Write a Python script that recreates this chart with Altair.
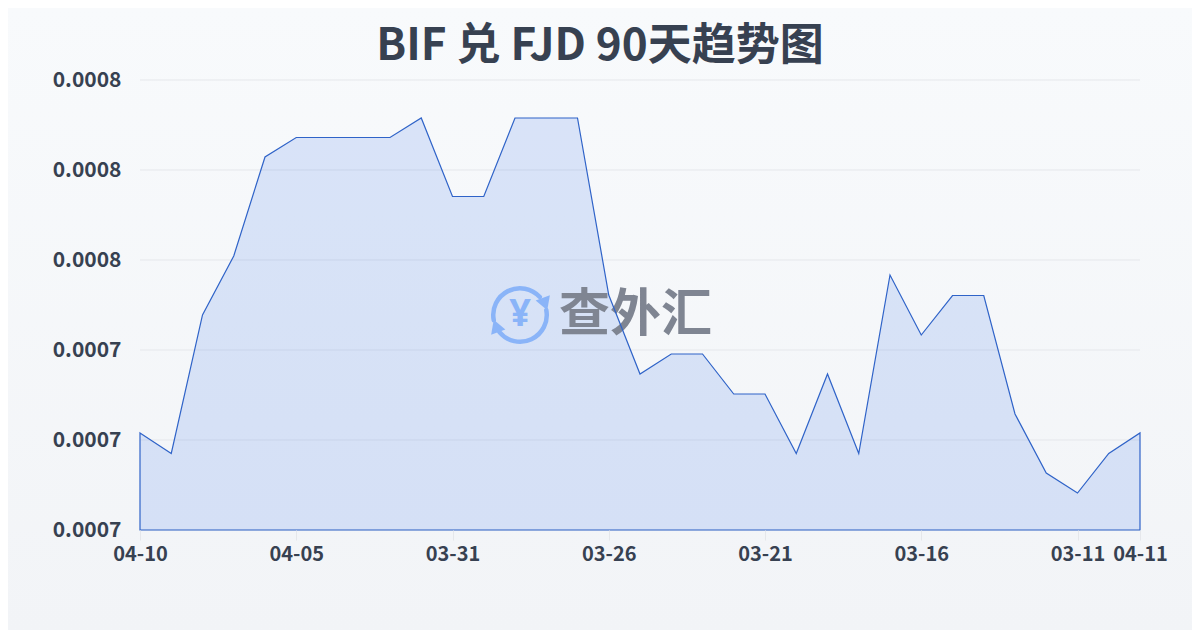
import altair as alt
import pandas as pd

TITLE = "BIF 兑 FJD 90天趋势图"
dates = ["04-10","04-09","04-08","04-07","04-06","04-05","04-04","04-03","04-02","04-01",
         "03-31","03-30","03-29","03-28","03-27","03-26","03-25","03-24","03-23","03-22",
         "03-21","03-20","03-19","03-18","03-17","03-16","03-15","03-14","03-13","03-12",
         "03-11","03-10","04-11"]
rates = [0.00072156,0.000717,0.00074778,0.00076089,0.00078289,0.00078722,0.00078722,0.00078722,
         0.00078722,0.00079156,0.00077411,0.00077411,0.00079156,0.00079156,0.00079156,0.00075222,
         0.00073467,0.00073911,0.00073911,0.00073022,0.00073022,0.000717,0.00073467,0.000717,
         0.00075667,0.00074333,0.00075211,0.00075211,0.00072578,0.00071267,0.00070822,0.000717,
         0.00072156]
x_ticks = ["04-10","04-05","03-31","03-26","03-21","03-16","03-11","04-11"]
y_ticks = [0.0007,0.00072,0.00074,0.00076,0.00078,0.0008]
BASE = 0.0007

TEXT = "#374151"
LINE = "#2f63c8"
FILL = "#2563eb"
LOGO = "#8ab4f8"
FONT = "Noto Sans CJK SC"

df = pd.DataFrame({"date": dates, "rate": rates, "base": [BASE] * len(dates)})
x_enc = alt.X("date:N", sort=None, title=None,
              scale=alt.Scale(type="point", padding=0),
              axis=alt.Axis(values=x_ticks, labelAngle=0, labelOverlap=False, labelFontSize=20,
                            labelFontWeight="bold", labelColor=TEXT, labelFont=FONT, labelPadding=4,
                            tickColor="#e5e7eb", tickSize=10, domain=False, grid=False, zindex=1))
y_scale = alt.Scale(domain=[BASE, 0.0008])
y_axis = alt.Axis(values=y_ticks, format=".4f", labelFontSize=21, labelFontWeight="bold",
                  labelColor=TEXT, labelFont=FONT, labelPadding=19, ticks=False,
                  domain=False, grid=False, zindex=1)
y_enc = alt.Y("rate:Q", title=None, scale=y_scale, axis=y_axis)

bg = alt.Chart(pd.DataFrame({"a": [0]})).mark_rect(
    color=alt.Gradient(gradient="linear", x1=0, y1=0, x2=0, y2=1,
                       stops=[alt.GradientStop(offset=0, color="#f8fafc"),
                              alt.GradientStop(offset=1, color="#f2f4f7")])
).encode(x=alt.value(-132), x2=alt.value(1052), y=alt.value(-72), y2=alt.value(550))

grid = alt.Chart(pd.DataFrame({"t": y_ticks})).mark_rule(color="#e5e7eb", strokeWidth=1).encode(
    y=alt.Y("t:Q", scale=y_scale, title=None, axis=y_axis), x=alt.value(0), x2=alt.value(1000))

title = alt.Chart(pd.DataFrame({"a": [TITLE]})).mark_text(
    font=FONT, fontWeight="bold", fontSize=44, color=TEXT, align="center", baseline="middle"
).encode(text="a:N", x=alt.value(460), y=alt.value(-33))

area = alt.Chart(df).mark_area(
    fill=FILL, fillOpacity=0.14, interpolate="linear"
).encode(x=x_enc, y=y_enc, y2="base:Q")
outline = alt.Chart(df).mark_area(
    stroke=LINE, strokeWidth=1.2, fillOpacity=0, interpolate="linear"
).encode(x=x_enc, y=y_enc, y2="base:Q")

cx, cy = 380, 235
def arc(t1, t2):
    return alt.Chart(pd.DataFrame({"a": [0]})).mark_arc(
        theta=t1, theta2=t2, radius=29, radius2=24.5, cornerRadius=2.2, color=LOGO
    ).encode(x=alt.value(cx), y=alt.value(cy))

logo = [arc(4.43, 7.2), arc(1.3, 4.1)]
def head(px, py, ang):
    return alt.Chart(pd.DataFrame({"a": [0]})).mark_point(
        shape="triangle-down", filled=True, size=230, color=LOGO, opacity=1, angle=ang
    ).encode(x=alt.value(px), y=alt.value(py))
logo += [head(405, 224, 340), head(356, 246, 160)]
yen = alt.Chart(pd.DataFrame({"a": ["¥"]})).mark_text(
    font="Noto Sans", fontWeight="bold", fontSize=38, color=LOGO, align="center", baseline="middle"
).encode(text="a:N", x=alt.value(cx), y=alt.value(cy))
brand = alt.Chart(pd.DataFrame({"a": ["查外汇"]})).mark_text(
    font=FONT, fontWeight="bold", fontSize=51, color="#7f8592", align="left", baseline="middle"
).encode(text="a:N", x=alt.value(419), y=alt.value(236))

chart = alt.layer(bg, grid, title, area, *logo, yen, brand, outline).properties(
    width=1000, height=450,
    padding={"left": 132, "top": 72, "right": 52, "bottom": 100},
    autosize=alt.AutoSizeParams(type="none"),
).configure_view(stroke=None)

chart.save("out.html", embed_options={"renderer": "svg", "actions": False})
